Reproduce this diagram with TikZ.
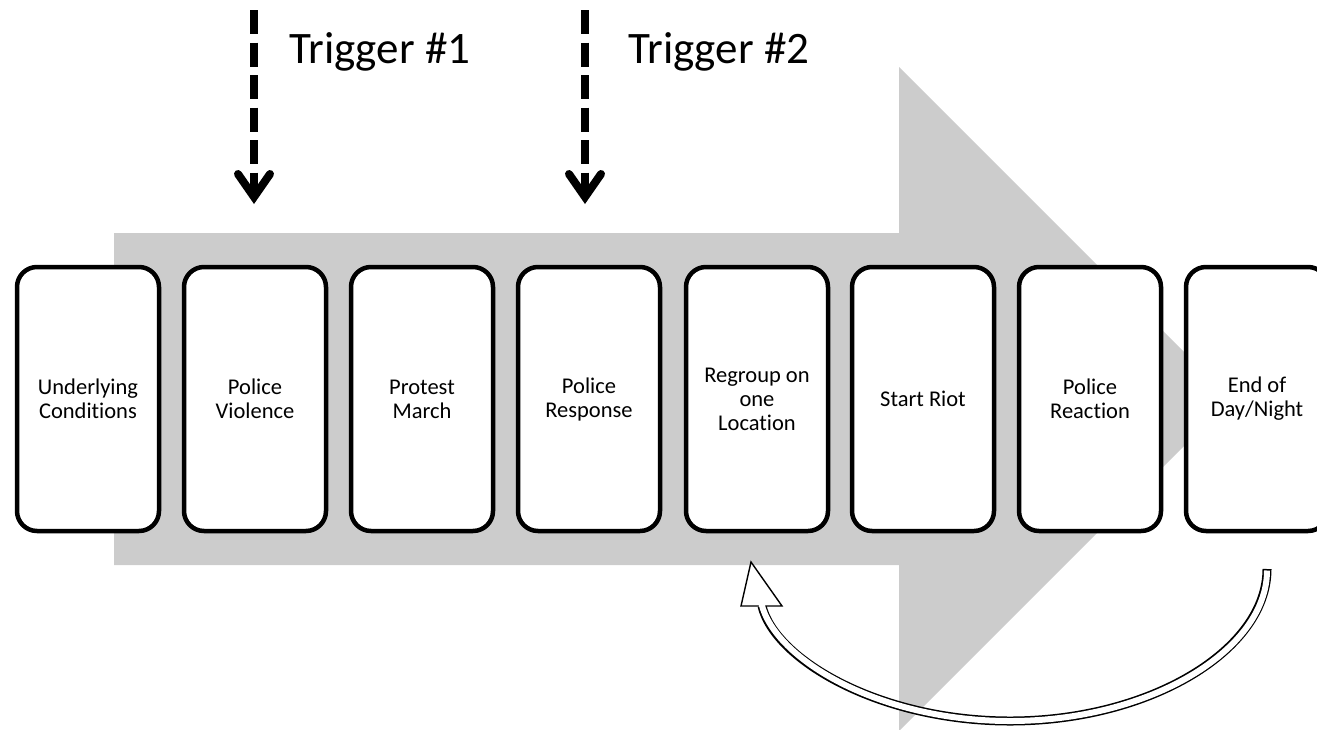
\documentclass[tikz,border=0pt]{standalone}
\usepackage{fontspec}
\setmainfont[Ligatures=NoCommon]{Carlito}
\usetikzlibrary{calc}

\definecolor{flowgrey}{HTML}{CCCCCC}

\tikzset{
  stage/.style={draw=black, fill=white, line width=4.5pt, rounded corners=20pt,
    minimum width=142pt, minimum height=264pt, inner sep=0pt, align=center,
    font=\fontsize{22.5}{24}\selectfont},
  trigshaft/.style={line width=8pt, dash pattern=on 24pt off 8.5pt},
  trighead/.style={line width=8pt, line cap=round, line join=miter},
  triglabel/.style={anchor=base west, inner sep=0pt, font=\fontsize{45}{50}\selectfont}
}

\begin{document}
\begin{tikzpicture}[x=1pt, y=-1pt]
  \useasboundingbox (0,0) rectangle (1317,729);

  % broad grey process arrow behind the stages
  \fill[flowgrey] (114,233) -- (899,233) -- (899,67) -- (1231,399)
    -- (899,731) -- (899,565) -- (114,565) -- cycle;

  % stages
  \node[stage] (cond)    at (88,399)   {Underlying\\Conditions};
  \node[stage] (viol)    at (255,399)  {Police\\Violence};
  \node[stage] (march)   at (422,399)  {Protest\\March};
  \node[stage] (resp)    at (589,399)  {Police\\Response};
  \node[stage] (regroup) at (757,399)  {Regroup on\\one\\Location};
  \node[stage] (riot)    at (923,399)  {Start Riot};
  \node[stage] (react)   at (1090,399) {Police\\Reaction};
  \node[stage] (endday)  at (1257,399) {End of\\Day/Night};

  % triggers
  \coordinate (t1top) at (254,10);
  \coordinate (t1tip) at (254,197);
  \coordinate (t2top) at (585,10);
  \coordinate (t2tip) at (585,197);
  \foreach \t in {t1,t2}{
    \draw[trigshaft] (\t top) -- (\t tip);
    \draw[trighead] ($(\t tip)+(-16,-23)$) -- (\t tip) -- ($(\t tip)+(16,-23)$);
  }
  \node[triglabel] (trig1) at (289,63) {Trigger \#1};
  \node[triglabel] (trig2) at (628,63) {Trigger \#2};

  % hollow loop arrow from the last stage back to regrouping
  \coordinate (loopstart) at (1267,569);
  \coordinate (loopmid)   at (1010,721);
  \coordinate (loopend)   at (762,606);
  \coordinate (headtip)   at (751,562);
  \coordinate (headl)     at (741,606);
  \coordinate (headr)     at (782,606);
  \def\looppath{(loopstart) .. controls (1267,650) and (1150,721) .. (loopmid)
     .. controls (880,721) and (775,660) .. (loopend)}
  \draw[line width=9pt, black] \looppath;
  \filldraw[fill=white, draw=black, line width=1.4pt, line join=miter]
    (headtip) -- (headr) -- (headl) -- cycle;
  \draw[line width=6pt, white, shorten <=1.5pt, shorten >=-2.5pt] \looppath;
\end{tikzpicture}
\end{document}
